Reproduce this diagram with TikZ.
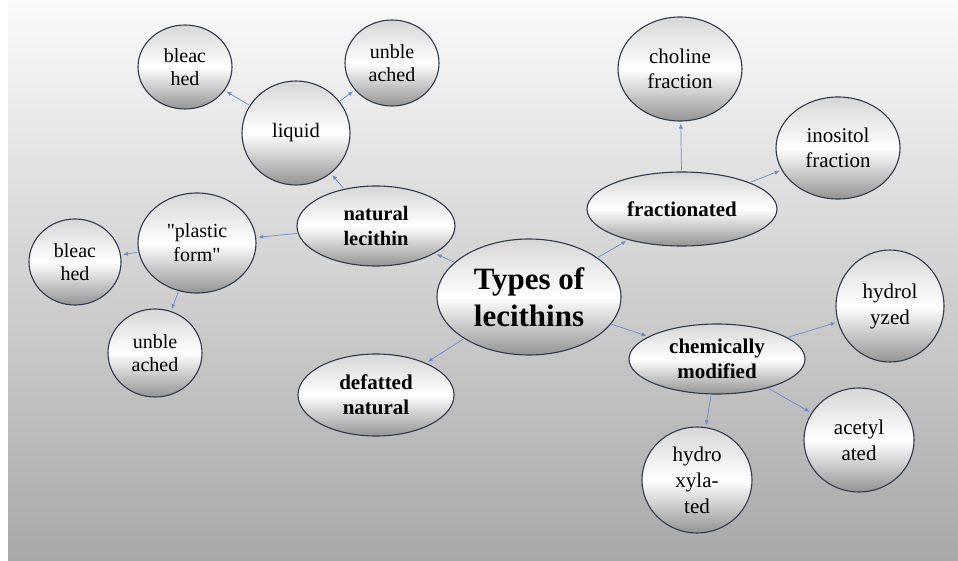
\documentclass[tikz,border=0pt]{standalone}
\usepackage{fontspec}
\setmainfont{Liberation Serif}
\usetikzlibrary{arrows.meta,shapes.geometric}
\definecolor{rimgray}{RGB}{48,58,74}
\definecolor{linkblue}{RGB}{108,138,200}
\definecolor{bgtop}{RGB}{250,250,250}
\definecolor{bgbottom}{RGB}{168,168,168}
\newcommand{\fsz}[2]{\fontsize{#1}{#2}\selectfont}

\tikzset{
    bubble/.style={draw=rimgray, line width=1.1pt, ellipse, inner sep=0pt, align=center,
        top color=black!16, bottom color=black!42, middle color=white},
    link/.style={-{Latex[length=5pt,width=4pt]}, draw=linkblue, line width=0.7pt,
        shorten >=2pt, shorten <=1pt}
}

\begin{document}
\begin{tikzpicture}[x=1pt, y=-1pt]
            % Background
            \fill[white] (0,0) rectangle (958,561);
            \shade[top color=bgtop, bottom color=bgbottom] (8,0) rectangle (958,561);
            \useasboundingbox (0,0) rectangle (958,561);

            % Centre
            \node[bubble, minimum width=184pt, minimum height=116pt, inner xsep=-10pt, font=\fsz{31}{37}\bfseries] (types) at (529,297)
                {Types of\\lecithins};

            % Main kinds
            \node[bubble, minimum width=158pt, minimum height=80pt, font=\fsz{20.5}{25}\bfseries] (natural) at (376,226)
                {natural\\lecithin};
            \node[bubble, minimum width=156pt, minimum height=82pt, font=\fsz{21}{25}\bfseries] (defatted) at (376,395)
                {defatted\\natural};
            \node[bubble, minimum width=190pt, minimum height=74pt, font=\fsz{21}{25}\bfseries] (fract) at (682,209)
                {fractionated};
            \node[bubble, minimum width=176pt, minimum height=70pt, font=\fsz{21}{25}\bfseries] (chem) at (717,359)
                {chemically\\modified};

            % Natural lecithin branch
            \node[bubble, minimum width=108pt, minimum height=104pt, font=\fsz{20.5}{24}] (liquid) at (296,133) {liquid};
            \node[bubble, minimum width=118pt, minimum height=100pt, font=\fsz{20}{24}] (plastic) at (197,243)
                {\textquotedbl plastic\\form\textquotedbl};
            \node[bubble, minimum width=94pt, minimum height=84pt, font=\fsz{20}{23}] (liqbl) at (185,67) {bleac\\hed};
            \node[bubble, minimum width=94pt, minimum height=86pt, font=\fsz{20}{23}] (liqunbl) at (392,63) {unble\\ached};
            \node[bubble, minimum width=92pt, minimum height=86pt, font=\fsz{20}{23}] (plabl) at (75,262) {bleac\\hed};
            \node[bubble, minimum width=94pt, minimum height=88pt, font=\fsz{20}{23}] (plaunbl) at (155,353) {unble\\ached};

            % Fractionated branch
            \node[bubble, minimum width=124pt, minimum height=104pt, font=\fsz{21}{25}] (choline) at (680,69)
                {choline\\fraction};
            \node[bubble, minimum width=124pt, minimum height=102pt, font=\fsz{21}{25}] (inositol) at (838,148)
                {inositol\\fraction};

            % Chemically modified branch
            \node[bubble, minimum width=108pt, minimum height=112pt, font=\fsz{21}{26}] (hydrol) at (890,306)
                {hydrol\\yzed};
            \node[bubble, minimum width=110pt, minimum height=104pt, font=\fsz{21}{26}] (acetyl) at (859,440)
                {acetyl\\ated};
            \node[bubble, minimum width=110pt, minimum height=106pt, font=\fsz{21}{26}] (hydroxy) at (697,480)
                {hydro\\xyla-\\ted};

            % Arrows
            \draw[link] (types) -- (natural);
            \draw[link] (types) -- (defatted);
            \draw[link] (types) -- (fract);
            \draw[link] (types) -- (chem);
            \draw[link] (natural) -- (liquid);
            \draw[link] (natural) -- (plastic);
            \draw[link] (liquid) -- (liqbl);
            \draw[link] (liquid) -- (liqunbl);
            \draw[link] (plastic) -- (plabl);
            \draw[link] (plastic) -- (plaunbl);
            \draw[link] (fract) -- (choline);
            \draw[link] (fract) -- (inositol);
            \draw[link] (chem) -- (hydrol);
            \draw[link] (chem) -- (acetyl);
            \draw[link] (chem) -- (hydroxy);
\end{tikzpicture}
\end{document}
